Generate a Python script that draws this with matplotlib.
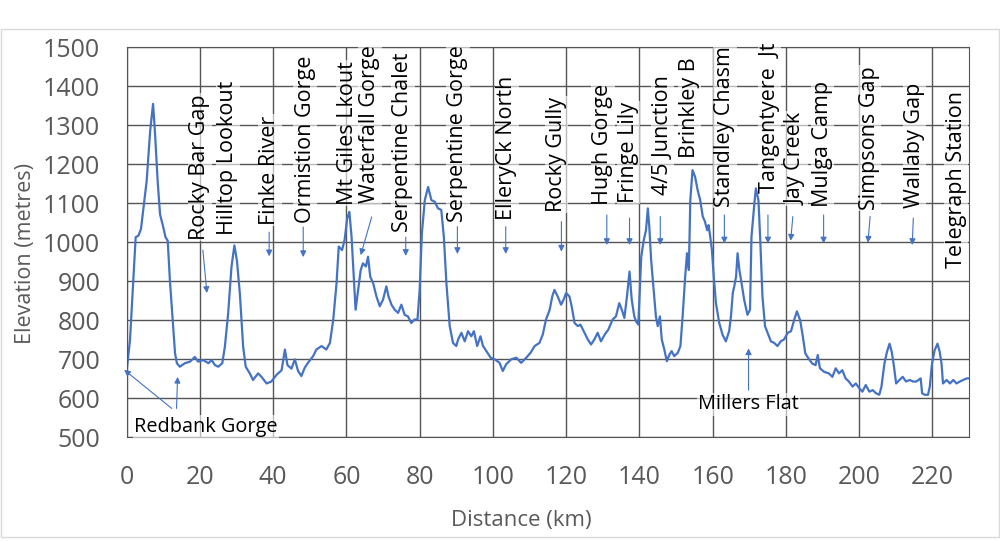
import matplotlib
matplotlib.use("Agg")
import matplotlib.pyplot as plt
from matplotlib.patches import Rectangle

plt.rcParams['font.family'] = ['Open Sans', 'DejaVu Sans']

# elevation profile (km, metres)
dist_km = [0, 0.9, 1.8, 2.45, 3.2, 3.9, 4.5, 5.45, 6.4, 7.2, 7.7, 8.45, 9.1, 10, 10.6, 11.2,
           11.8, 12.45, 13.2, 13.7, 14.5, 15.9, 17.3, 18.6, 19.5, 20.9, 22.3, 23.2, 24.1, 25,
           26.1, 26.8, 27.7, 28.6, 29.4, 30.1, 30.9, 31.8, 32.5, 33.6, 34.5, 35.9, 36.8, 38.2,
           39.5, 40.9, 42.3, 43.2, 43.9, 45, 45.9, 46.8, 47.7, 48.6, 49.5, 50.9, 51.8, 53.2,
           54.5, 55.5, 56.4, 57.3, 57.9, 58.8, 59.5, 60.2, 60.8, 61.4, 62, 62.5, 63.2, 63.9,
           64.5, 65.3, 65.9, 66.5, 67.3, 68.2, 69.1, 70, 70.9, 71.5, 72.3, 73.2, 74.1, 75,
           75.9, 76.8, 77.7, 78.6, 79.4, 80, 80.6, 81.4, 82.3, 83.2, 84.1, 85, 85.9, 86.6,
           87.3, 88.2, 89.1, 90, 90.5, 91.4, 92.3, 93.2, 94.1, 94.8, 95.7, 96.6, 97.3, 98.2,
           99.4, 100.5, 101.8, 102.7, 103.6, 105, 106.4, 107.7, 109.1, 110.3, 111.4, 112.7,
           113.6, 114.5, 115.5, 116.2, 116.8, 117.7, 118.6, 119.3, 120, 120.9, 121.5, 122.3,
           123.2, 123.9, 125, 125.9, 126.8, 127.7, 128.6, 129.5, 130.5, 131.5, 132.7, 133.6,
           134.5, 135.2, 135.9, 136.6, 137.3, 137.9, 138.6, 139.1, 139.7, 140.5, 141.2, 141.8,
           142.3, 142.7, 143.2, 143.9, 144.5, 145, 145.6, 146.1, 146.8, 147.5, 148.2, 148.8,
           149.5, 150.5, 151.2, 151.8, 152.5, 153, 153.5, 153.9, 154.5, 155.2, 155.9, 156.6,
           157.3, 157.9, 158.5, 158.9, 159.4, 159.8, 160.3, 160.9, 161.8, 162.7, 163.6, 164.5,
           165, 165.5, 165.9, 166.4, 166.8, 167.3, 167.9, 168.6, 169.5, 170.2, 170.6, 171.4,
           171.8, 172.5, 173, 173.6, 174.3, 175, 175.9, 176.8, 177.7, 178.6, 179.5, 180.5,
           181.4, 182.3, 183, 183.9, 184.6, 185.3, 186.2, 187.2, 188.1, 188.7, 189.3, 190.4,
           191.7, 192.7, 193.6, 194.5, 195.4, 196.3, 197.2, 198.2, 199.1, 200, 200.9, 201.8,
           202.8, 203.7, 204.6, 205.5, 206.1, 206.9, 207.6, 208.3, 208.9, 209.4, 210.1, 211,
           211.9, 212.8, 213.8, 214.7, 215.6, 216.8, 217.2, 217.9, 218.8, 219.3, 219.9, 220.6,
           221.4, 222, 222.5, 222.9, 223.9, 224.8, 225.7, 226.6, 227.5, 228.4, 229.4, 229.8]
elev_m = [672, 749, 902, 1013, 1017, 1034, 1081, 1157, 1285, 1355, 1285, 1157, 1072, 1038, 1013, 1004,
          902, 817, 715, 690, 681, 690, 694, 706, 694, 698, 690, 698, 685, 681,
          690, 732, 817, 936, 992, 953, 868, 732, 681, 664, 647, 664, 655, 638,
          643, 660, 672, 725, 685, 676, 700, 670, 657, 678, 691, 708, 725, 734,
          725, 742, 802, 895, 989, 980, 1006, 1061, 1078, 1014, 912, 827, 878, 929,
          946, 938, 963, 912, 895, 861, 836, 853, 887, 861, 840, 827, 819, 840,
          814, 810, 793, 802, 802, 878, 1023, 1108, 1142, 1108, 1104, 1087, 1083, 1014,
          895, 785, 742, 734, 751, 768, 746, 772, 759, 772, 734, 759, 734, 721,
          704, 700, 691, 670, 687, 700, 704, 691, 704, 717, 734, 742,
          763, 802, 827, 861, 878, 861, 840, 853, 870, 861, 836, 793,
          785, 789, 768, 751, 738, 751, 768, 746, 763, 776, 802, 810,
          844, 827, 806, 861, 925, 853, 810, 797, 789, 963, 1006, 1031,
          1087, 1040, 955, 878, 810, 785, 810, 751, 725, 695, 712, 721,
          708, 717, 734, 810, 912, 972, 929, 1108, 1185, 1168, 1134, 1108,
          1066, 1053, 1031, 1044, 1010, 980, 912, 844, 793, 763, 746, 772,
          810, 870, 887, 912, 972, 929, 895, 853, 814, 827, 1014, 1100,
          1138, 1108, 1006, 861, 785, 768, 746, 742, 734, 746, 751, 768,
          772, 802, 823, 800, 760, 715, 702, 689, 685, 711, 677, 668,
          664, 655, 677, 664, 672, 651, 643, 630, 638, 626, 617, 634,
          617, 621, 613, 609, 630, 689, 719, 740, 719, 689, 638, 647,
          655, 643, 647, 643, 643, 651, 613, 609, 609, 630, 689, 723,
          740, 719, 689, 638, 647, 638, 647, 638, 643, 647, 651, 651]

# stop names (rotated), distance and bottom of label (m)
stop_names = ["Rocky Bar Gap", "Hilltop Lookout", "Finke River", "Ormistion Gorge",
              "Mt Giles Lkout", "Waterfall Gorge", "Serpentine Chalet", "Serpentine Gorge",
              "ElleryCk North", "Rocky Gully", "Hugh Gorge", "Fringe Lily", "4/5 Junction",
              "Brinkley B", "Standley Chasm", "Tangentyere  Jt", "Jay Creek", "Mulga Camp",
              "Simpsons Gap", "Wallaby Gap", "Telegraph Station"]
stop_x = [20.0, 27.6, 39.1, 48.7, 60.4, 66.4, 75.4, 90.4, 103.8, 117.4, 130.0, 137.0,
          146.3, 153.7, 163.3, 175.5, 182.9, 190.0, 202.8, 215.1, 226.5]
stop_y = [1006, 1019, 1045, 1050, 1096, 1101, 1027, 1052, 1057, 1078, 1096, 1101,
          1121, 1216, 1091, 1127, 1096, 1091, 1083, 1089, 934]

# arrows: (from x, from y, to x, to y)
arrows = [(20.8, 980, 21.9, 870), (38.9, 1026, 38.9, 964), (48.2, 1039, 48.2, 962),
          (66.9, 1065, 63.9, 967), (76.2, 1013, 76.2, 965), (90.3, 1040, 90.3, 970),
          (103.5, 1040, 103.5, 970), (118.7, 1053, 118.7, 976), (131.1, 1070, 131.1, 993),
          (137.3, 1062, 137.3, 993), (145.7, 1066, 145.7, 993), (163.2, 1070, 163.2, 997),
          (175.1, 1070, 175.1, 997), (181.9, 1066, 181.3, 1004), (190.3, 1070, 190.3, 997),
          (203.0, 1066, 202.4, 999), (214.8, 1062, 214.5, 993),
          (12.3, 574, -0.7, 673), (13.6, 574, 13.9, 655), (169.8, 621, 169.8, 728)]

blue = '#4472C4'
grid_c = '#555555'
txt_c = '#595959'

fig = plt.figure(figsize=(10, 5.41), dpi=100)
ax = fig.add_axes([0.1267, 0.1917, 0.8423, 0.7209])

ax.plot(dist_km, elev_m, color=blue, lw=1.6, zorder=2)

ax.set_xlim(0, 230)
ax.set_ylim(500, 1500)
ax.set_xticks(range(0, 221, 20))
ax.set_yticks(range(500, 1501, 100))
ax.grid(True, color=grid_c, lw=1)
ax.set_axisbelow(True)
for s in ax.spines.values():
    s.set_color(grid_c)
ax.tick_params(length=0, labelsize=18, colors=txt_c)
ax.tick_params(axis='y', pad=19)
ax.tick_params(axis='x', pad=20)

ax.set_xlabel("Distance (km)", fontsize=16, color=txt_c)
ax.set_ylabel("Elevation (metres)", fontsize=15.5, color=txt_c)
ax.xaxis.set_label_coords(0.469, -0.187)
ax.yaxis.set_label_coords(-0.108, 0.47)

box = dict(facecolor='white', edgecolor='none', alpha=0.6, pad=1)
for name, x, y in zip(stop_names, stop_x, stop_y):
    ax.text(x, y, name, rotation=90, ha='center', va='bottom', fontsize=15.5,
            color='black', bbox=box, zorder=3, clip_on=False)

ax.text(21.7, 527, "Redbank Gorge", ha='center', va='center', fontsize=14.3,
        color='black', bbox=box, zorder=3)
ax.text(169.8, 585, "Millers Flat", ha='center', va='center', fontsize=14.3,
        color='black', bbox=box, zorder=3)

for x0, y0, x1, y1 in arrows:
    ax.annotate("", xy=(x1, y1), xytext=(x0, y0), zorder=4, annotation_clip=False,
                arrowprops=dict(arrowstyle='-|>', color=blue, lw=0.8, mutation_scale=9,
                                shrinkA=0, shrinkB=0))

fig.patches.append(Rectangle((0.001, 0.0074), 0.998, 0.939, transform=fig.transFigure,
                             fill=False, edgecolor='#d9d9d9', lw=1))

plt.savefig("out.png", dpi=100)
